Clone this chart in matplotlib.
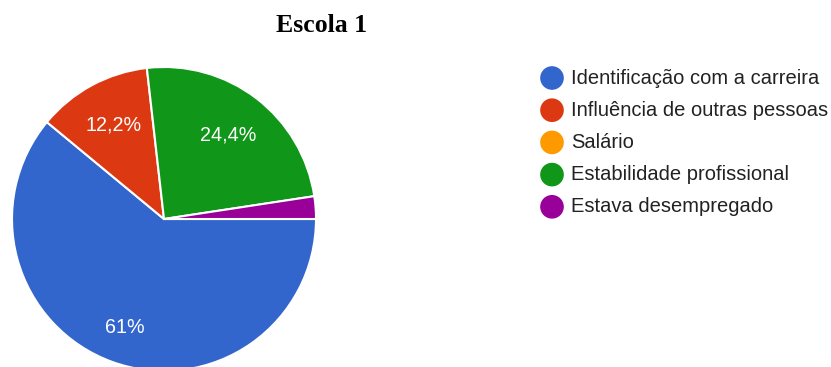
import matplotlib
matplotlib.use('Agg')
import matplotlib.pyplot as plt
import numpy as np

# survey answers, Escola 1
categories = ['Identificação com a carreira', 'Influência de outras pessoas',
              'Salário', 'Estabilidade profissional', 'Estava desempregado']
shares = [61.0, 12.2, 0.0, 24.4, 2.4]
pct_labels = ['61%', '12,2%', '', '24,4%', '']
colors = ['#3366cc', '#dc3912', '#ff9900', '#109618', '#990099']

W, H = 831, 367
fig = plt.figure(figsize=(W / 100, H / 100), dpi=100)
ax = fig.add_axes([0, 0, 1, 1])

# pie in pixel coordinates, bottom edge runs off the canvas
cx, cy, r = 164, H - 219, 152
keep = [i for i, v in enumerate(shares) if v > 0]
wedges, _ = ax.pie([shares[i] for i in keep], colors=[colors[i] for i in keep],
                   startangle=0, counterclock=False, center=(cx, cy), radius=r,
                   frame=True, wedgeprops=dict(edgecolor='white', linewidth=1.5))
ax.set_xlim(0, W)
ax.set_ylim(0, H)
ax.axis('off')

for w, i in zip(wedges, keep):
    if not pct_labels[i]:
        continue
    mid = np.deg2rad((w.theta1 + w.theta2) / 2)
    d = 0.76 if shares[i] > 50 else 0.70
    ax.text(cx + d * r * np.cos(mid), cy + d * r * np.sin(mid), pct_labels[i],
            color='white', fontsize=14.2, family='Liberation Sans',
            ha='center', va='center')

# title
ax.text(322, H - 26, 'Escola 1', family='Liberation Serif', fontweight='bold',
        fontsize=18.5, ha='center', va='center', color='black')

# legend
for k, (lab, col) in enumerate(zip(categories, colors)):
    y = H - (78 + k * 32.2)
    ax.scatter([552], [y], s=290, color=col, edgecolors='none', clip_on=False)
    ax.text(571, y, lab, family='Liberation Sans', fontsize=14.5, color='#222222',
            ha='left', va='center')

fig.savefig('out.png', dpi=100, facecolor='white')
